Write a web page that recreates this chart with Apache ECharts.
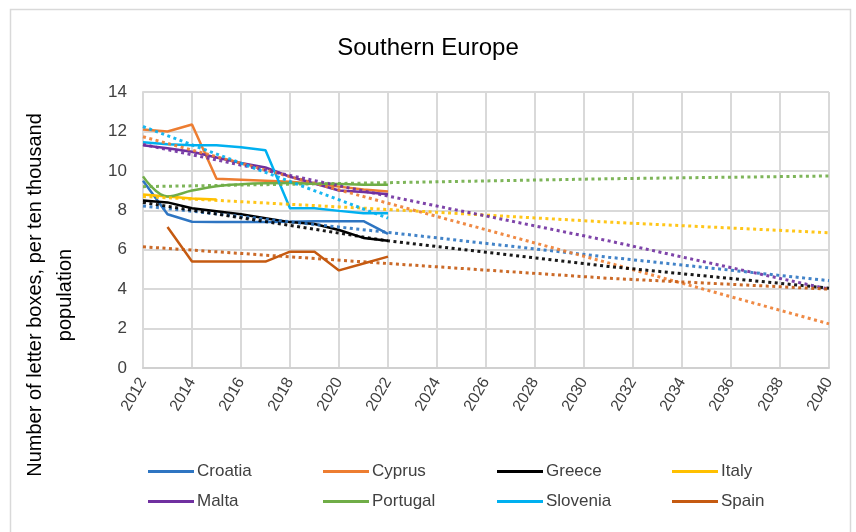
<!DOCTYPE html>
<html>
<head>
<meta charset="utf-8">
<script src="https://cdn.jsdelivr.net/npm/echarts@6/dist/echarts.min.js"></script>
<style>
html,body{margin:0;padding:0;background:#fff;}
#chart{width:856px;height:532px;}
</style>
</head>
<body>
<div id="chart"></div>
<script>
// ---- data ----
const years = [2012, 2013, 2014, 2015, 2016, 2017, 2018, 2019, 2020, 2021, 2022];
const countries = ['Croatia', 'Cyprus', 'Greece', 'Italy', 'Malta', 'Portugal', 'Slovenia', 'Spain'];
const croatia  = [9.5, 7.8, 7.42, 7.4, 7.4, 7.4, 7.42, 7.45, 7.45, 7.45, 6.8];
const cyprus   = [12.1, 12.0, 12.35, 9.6, 9.55, 9.5, 9.45, 9.35, 9.2, 9.05, 8.95];
const greece   = [8.5, 8.4, 8.1, 7.95, 7.8, 7.6, 7.4, 7.3, 7.0, 6.6, 6.45];
const italy    = [8.8, 8.7, 8.6, 8.55, null, null, null, null, null, null, null];
const malta    = [11.3, 11.15, 10.97, 10.68, 10.4, 10.17, 9.7, 9.36, 9.0, 8.93, 8.81];
const portugal = [9.72, 8.7, 9.0, 9.22, 9.32, 9.37, 9.38, 9.35, 9.33, 9.3, 9.3];
const slovenia = [11.45, 11.35, 11.3, 11.3, 11.2, 11.05, 8.1, 8.1, 7.97, 7.85, 7.85];
const spain    = [null, 7.15, 5.4, 5.4, 5.4, 5.4, 5.9, 5.9, 4.95, 5.3, 5.65];

// trend lines
const trendYears     = [2012, 2022, 2031, 2040];
const croatiaTrend   = [8.22, 6.88, 5.62, 4.43];
const cyprusTrend    = [11.73, 8.36, 5.33, 2.24];
const greeceTrend    = [8.4, 6.45, 5.15, 4.05];
const italyTrend     = [8.7, 8.04, 7.4, 6.86];
const maltaTrend     = [11.34, 8.72, 6.45, 4.0];
const portugalTrend  = [9.2, 9.4, 9.6, 9.74];
const sloveniaTrend  = [12.25, 7.6, null, null];
const spainTrend     = [6.15, 5.3, 4.55, 4.0];

const yTicks = {min: 0, max: 14, interval: 2};
const xTicks = {min: 2012, max: 2040, interval: 2};

// ---- styling ----
const colors = {
  Croatia: '#2E75C2', Cyprus: '#ED7D31', Greece: '#000000', Italy: '#FFC000',
  Malta: '#7030A0', Portugal: '#70AD47', Slovenia: '#00B0F0', Spain: '#C55A11'
};
const values = {Croatia: croatia, Cyprus: cyprus, Greece: greece, Italy: italy,
  Malta: malta, Portugal: portugal, Slovenia: slovenia, Spain: spain};
const trends = {Croatia: croatiaTrend, Cyprus: cyprusTrend, Greece: greeceTrend, Italy: italyTrend,
  Malta: maltaTrend, Portugal: portugalTrend, Slovenia: sloveniaTrend, Spain: spainTrend};

const FONT = 'Liberation Sans';
const series = [];
countries.forEach(c => {
  series.push({
    name: c, type: 'line', showSymbol: false, symbol: 'none',
    smooth: c === 'Portugal' ? 0.4 : false,
    data: years.map((y, i) => [y, values[c][i]]),
    lineStyle: {color: colors[c], width: 2.5},
    itemStyle: {color: colors[c]},
    z: 2
  });
});
countries.forEach(c => {
  series.push({
    name: c + ' trend', type: 'line', showSymbol: false, symbol: 'none',
    data: trendYears.map((y, i) => [y, trends[c][i]]).filter(d => d[1] !== null),
    lineStyle: {color: colors[c], width: 3, type: [3, 3.5], cap: 'butt', opacity: 0.9},
    itemStyle: {color: colors[c]},
    z: 3, silent: true
  });
});

function legendCol(names, left) {
  return {
    orient: 'vertical', left: left, top: 458, itemGap: 13,
    itemWidth: 46, itemHeight: 3, icon: 'rect',
    textStyle: {fontFamily: FONT, fontSize: 17, color: '#404040', padding: [0, 0, 0, -2]},
    data: names.map(n => ({name: n, icon: 'rect'}))
  };
}

const chart = echarts.init(document.getElementById('chart'), null, {renderer: 'canvas'});
chart.setOption({
  animation: false,
  backgroundColor: '#ffffff',
  color: countries.map(c => colors[c]),
  title: {
    text: 'Southern Europe', left: 'center', top: 31,
    textStyle: {fontFamily: FONT, fontSize: 24, fontWeight: 'normal', color: '#000000'}
  },
  legend: [
    legendCol(['Croatia', 'Malta'], 143),
    legendCol(['Cyprus', 'Portugal'], 318),
    legendCol(['Greece', 'Slovenia'], 492),
    legendCol(['Italy', 'Spain'], 667)
  ],
  grid: {left: 143, right: 27, top: 92, bottom: 164, containLabel: false},
  xAxis: {
    type: 'value', min: xTicks.min, max: xTicks.max, interval: xTicks.interval,
    axisLine: {show: true, lineStyle: {color: '#D0D0D0', width: 2}},
    axisTick: {show: false},
    splitLine: {show: true, lineStyle: {color: '#D9D9D9', width: 2}},
    axisLabel: {
      formatter: v => String(v), rotate: 60, margin: 11,
      fontFamily: FONT, fontSize: 16, color: '#404040'
    }
  },
  yAxis: {
    type: 'value', min: yTicks.min, max: yTicks.max, interval: yTicks.interval,
    axisLine: {show: true, lineStyle: {color: '#D9D9D9', width: 2}},
    axisTick: {show: false},
    splitLine: {show: true, lineStyle: {color: '#D9D9D9', width: 2}},
    axisLabel: {margin: 16, fontFamily: FONT, fontSize: 17, color: '#404040'}
  },
  graphic: [
    {type: 'rect', left: 8, top: 7, shape: {width: 840, height: 540},
     style: {fill: 'none', stroke: '#D9D9D9', lineWidth: 1.5}, silent: true, z: -10},
    {type: 'text', x: 50, y: 295, rotation: Math.PI / 2,
     style: {text: 'Number of letter boxes, per ten thousand\npopulation',
       fontFamily: FONT, fontSize: 20, fill: '#000000', align: 'center',
       verticalAlign: 'middle', lineHeight: 30}}
  ],
  series: series
});
</script>
</body>
</html>
